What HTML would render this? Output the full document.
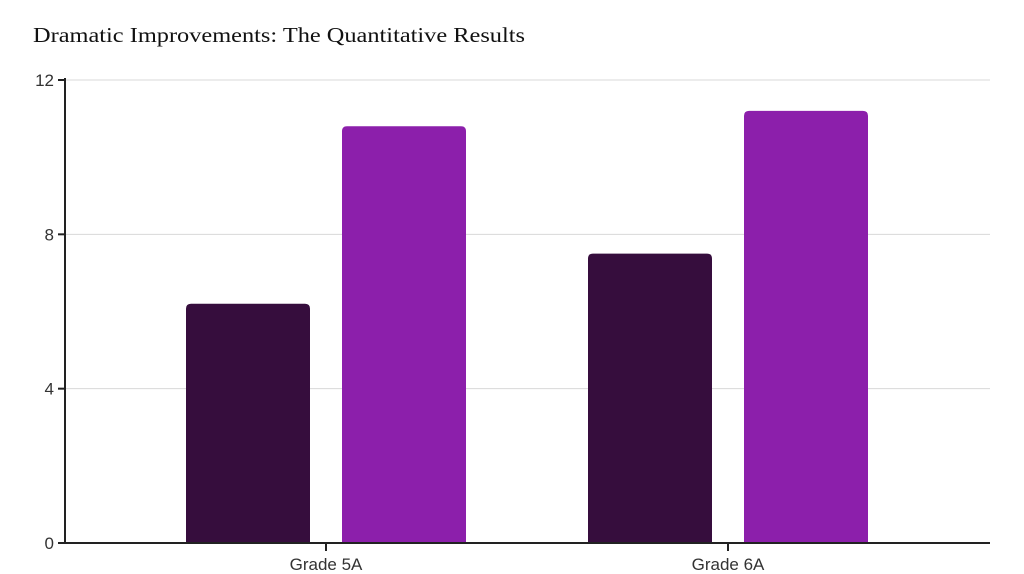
<!DOCTYPE html>
<html><head><meta charset="utf-8"><style>
body{margin:0;background:#fff;}
svg{display:block;}
</style></head><body>
<svg id="chart" width="1024" height="574" xmlns="http://www.w3.org/2000/svg">
<text x="33" y="42" font-family="'Liberation Serif',serif" font-size="21" fill="#111" textLength="492" lengthAdjust="spacingAndGlyphs">Dramatic Improvements: The Quantitative Results</text>
<g id="grid"></g><g id="bars"></g><g id="axes"></g>
</svg>
<script>
const categories=["Grade 5A","Grade 6A"];
const seriesBefore=[6.2,7.5];
const seriesAfter=[10.8,11.2];
const yTicks=[0,4,8,12];
const colors=["#360d3d","#8c1fab"];
const NS="http://www.w3.org/2000/svg";
const y0=543,y1=80,yMax=12;
const y=v=>y0-(y0-y1)*v/yMax;
const xc=i=>326+402*i;
function mk(tag,attrs,parent,text){const e=document.createElementNS(NS,tag);for(const k in attrs)e.setAttribute(k,attrs[k]);if(text!=null)e.textContent=text;parent.appendChild(e);return e;}
const grid=document.getElementById('grid'),bars=document.getElementById('bars'),axes=document.getElementById('axes');
yTicks.forEach(t=>{
 if(t>0){const g=mk('line',{x1:65,x2:990,y1:y(t),y2:y(t),stroke:'#d8d8d8','stroke-width':1},grid);
 
 }
 const tk=mk('line',{x1:58,x2:65,y1:y(t),y2:y(t),stroke:'#222','stroke-width':2},axes);
 
 
 const lb=mk('text',{x:54,y:y(t)+6,'text-anchor':'end','font-family':"'Liberation Sans',sans-serif",'font-size':17,fill:'#333'},axes,String(t));
 
 
});
function bar(x,v,c,name){
 const top=y(v),w=124,r=5,b=y0;
 const d=`M${x},${b}V${top+r}Q${x},${top} ${x+r},${top}H${x+w-r}Q${x+w},${top} ${x+w},${top+r}V${b}Z`;
 const p=mk('path',{d:d,fill:c},bars);
 
 
}
categories.forEach((c,i)=>{
 bar(xc(i)-140,seriesBefore[i],colors[0],'bar-before-'+i);
 bar(xc(i)+16,seriesAfter[i],colors[1],'bar-after-'+i);
 const tk=mk('line',{x1:xc(i),x2:xc(i),y1:y0,y2:y0+8,stroke:'#222','stroke-width':2},axes);
 
 
 const lb=mk('text',{x:xc(i),y:570,'text-anchor':'middle','font-family':"'Liberation Sans',sans-serif",'font-size':17,fill:'#333'},axes,c);
 
 
});
const ya=mk('line',{x1:65,x2:65,y1:y1-2,y2:y0+1,stroke:'#222','stroke-width':2},axes);


const xa=mk('line',{x1:64,x2:990,y1:y0,y2:y0,stroke:'#222','stroke-width':2},axes);


</script>
</body></html>
